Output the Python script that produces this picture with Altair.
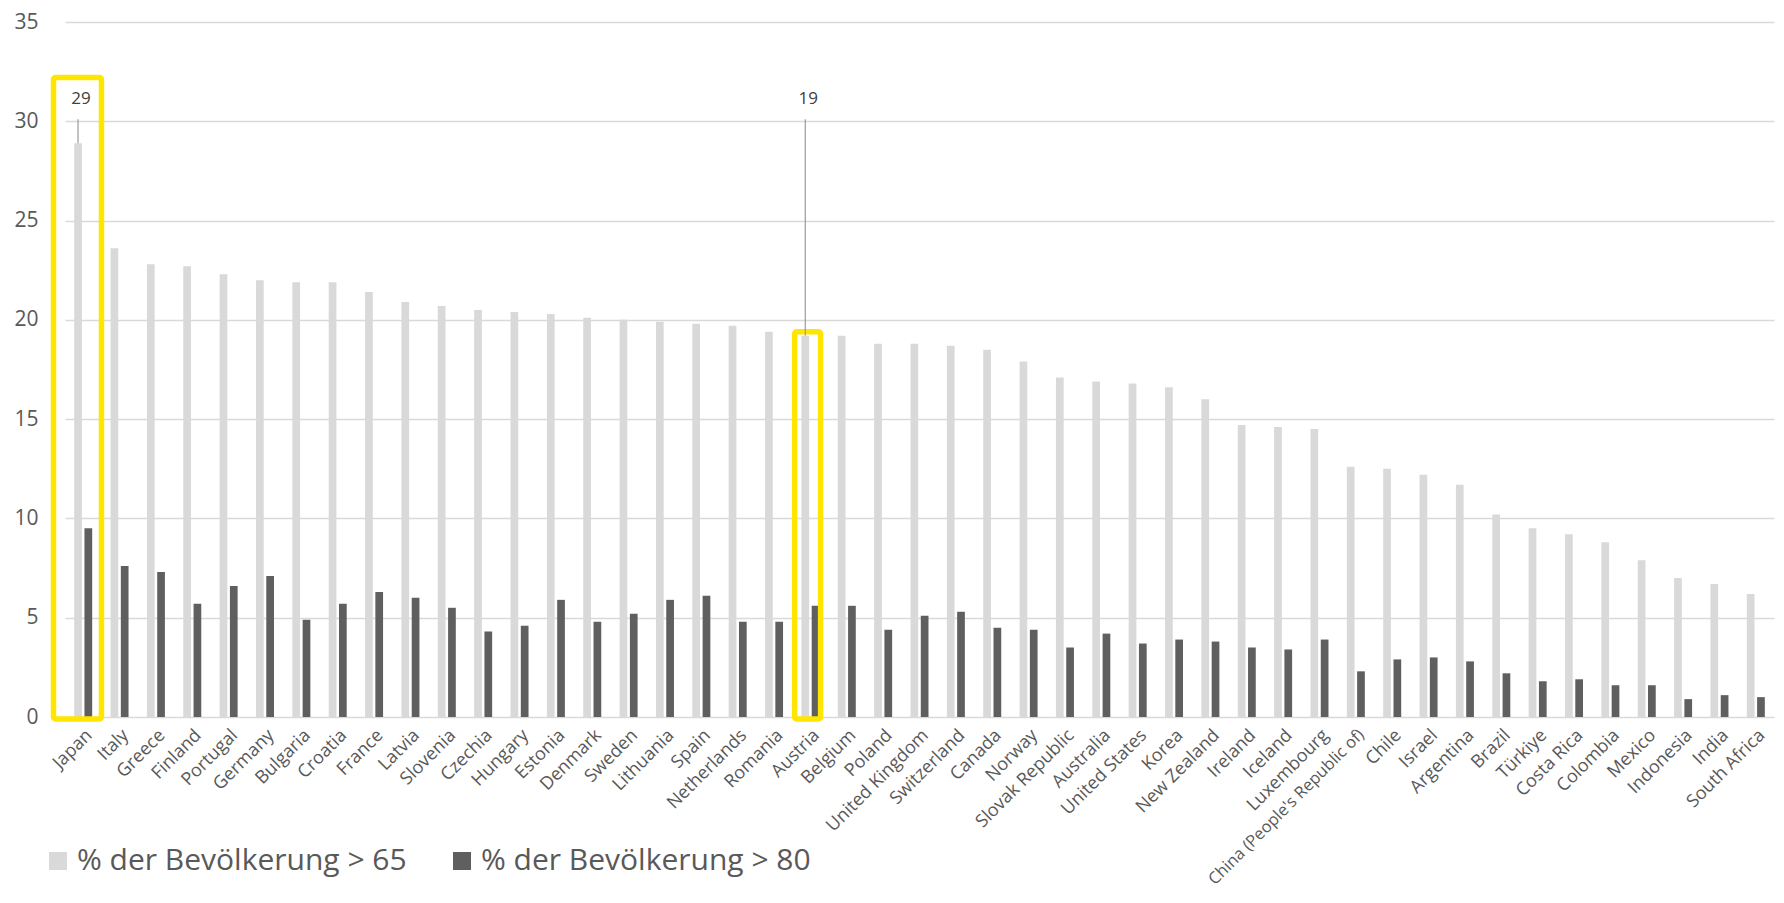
import altair as alt
import pandas as pd

countries = [
    "Japan", "Italy", "Greece", "Finland", "Portugal", "Germany", "Bulgaria", "Croatia",
    "France", "Latvia", "Slovenia", "Czechia", "Hungary", "Estonia", "Denmark", "Sweden",
    "Lithuania", "Spain", "Netherlands", "Romania", "Austria", "Belgium", "Poland",
    "United Kingdom", "Switzerland", "Canada", "Norway", "Slovak Republic", "Australia",
    "United States", "Korea", "New Zealand", "Ireland", "Iceland", "Luxembourg",
    "China (People's Republic of)", "Chile", "Israel", "Argentina", "Brazil", "Türkiye",
    "Costa Rica", "Colombia", "Mexico", "Indonesia", "India", "South Africa",
]
pct_over_65 = [
    28.9, 23.6, 22.8, 22.7, 22.3, 22.0, 21.9, 21.9, 21.4, 20.9, 20.7, 20.5, 20.4, 20.3,
    20.1, 20.0, 19.9, 19.8, 19.7, 19.4, 19.2, 19.2, 18.8, 18.8, 18.7, 18.5, 17.9, 17.1,
    16.9, 16.8, 16.6, 16.0, 14.7, 14.6, 14.5, 12.6, 12.5, 12.2, 11.7, 10.2, 9.5, 9.2,
    8.8, 7.9, 7.0, 6.7, 6.2,
]
pct_over_80 = [
    9.5, 7.6, 7.3, 5.7, 6.6, 7.1, 4.9, 5.7, 6.3, 6.0, 5.5, 4.3, 4.6, 5.9, 4.8, 5.2,
    5.9, 6.1, 4.8, 4.8, 5.6, 5.6, 4.4, 5.1, 5.3, 4.5, 4.4, 3.5, 4.2, 3.7, 3.9, 3.8,
    3.5, 3.4, 3.9, 2.3, 2.9, 3.0, 2.8, 2.2, 1.8, 1.9, 1.6, 1.6, 0.9, 1.1, 1.0,
]
series_names = ["% der Bevölkerung > 65", "% der Bevölkerung > 80"]
series_colors = ["#d9d9d9", "#5f5f5f"]
y_ticks = [0, 5, 10, 15, 20, 25, 30, 35]

# highlighted countries (yellow boxes) and the height each box reaches
highlight_countries = ["Japan", "Austria"]
highlight_top = [32.2, 19.4]

rows = []
for c, a, b in zip(countries, pct_over_65, pct_over_80):
    rows.append({"country": c, "series": series_names[0], "value": a})
    rows.append({"country": c, "series": series_names[1], "value": b})
df = pd.DataFrame(rows)

label_level = 31.1
annot = pd.DataFrame({
    "country": highlight_countries,
    "series": series_names[0],
    "value": [pct_over_65[countries.index(c)] for c in highlight_countries],
})
annot["label"] = annot["value"].round().astype(int).astype(str)
annot["level"] = label_level
annot["line_top"] = label_level - 1.0

boxes = pd.DataFrame({"country": highlight_countries, "top": highlight_top, "bottom": -0.1})

FONT = "Open Sans"
x_sort = countries
longest = max(countries, key=len)

x_enc = alt.X(
    "country:N", sort=x_sort,
    scale=alt.Scale(paddingInner=0.505, paddingOuter=0.2525),
    axis=alt.Axis(
        title=None, labelAngle=-45, labelAlign="right", labelBaseline="top",
        labelFont=FONT,
        labelFontSize=alt.ExprRef(f"datum.value == \"{longest}\" ? 16.5 : 18"),
        labelColor="#595959", labelLimit=400,
        labelPadding=9, ticks=False, domain=False, grid=False,
    ),
)
xoff = alt.XOffset("series:N", sort=series_names, scale=alt.Scale(paddingInner=0.25, paddingOuter=0))

bars = alt.Chart(df).mark_bar().encode(
    x=x_enc,
    xOffset=xoff,
    y=alt.Y(
        "value:Q",
        scale=alt.Scale(domain=[0, 35], nice=False),
        axis=alt.Axis(
            title=None, values=y_ticks, labelFont=FONT, labelFontSize=21,
            labelColor="#595959", labelPadding=27, ticks=False, domain=False,
            grid=True, gridColor="#d9d9d9", gridWidth=1.6,
        ),
    ),
    color=alt.Color(
        "series:N",
        scale=alt.Scale(domain=series_names, range=series_colors),
        legend=alt.Legend(
            title=None, orient="none", legendX=-22, legendY=824, direction="horizontal",
            symbolType="square", symbolSize=324, symbolStrokeWidth=0,
            labelFont=FONT, labelFontSize=30, labelColor="#595959",
            labelOffset=4, columnPadding=40, labelLimit=600, padding=0,
        ),
    ),
)

box_layers = []
box_styles = {"Japan": (48, -5.7), "Austria": (26, -2.8)}
for c in highlight_countries:
    w, off = box_styles[c]
    box_layers.append(
        alt.Chart(boxes[boxes["country"] == c]).mark_bar(
            fill="transparent", stroke="#FFE600", strokeWidth=5.5,
            cornerRadius=2, width=w, xOffset=off,
        ).encode(
            x=alt.X("country:N", sort=x_sort),
            y=alt.Y("top:Q"),
            y2=alt.Y2("bottom:Q"),
        )
    )

leaders = alt.Chart(annot).mark_rule(color="#9a9a9a", strokeWidth=1.2).encode(
    x=alt.X("country:N", sort=x_sort),
    xOffset=alt.XOffset("series:N", sort=series_names),
    y=alt.Y("line_top:Q"),
    y2=alt.Y2("value:Q"),
)

labels = alt.Chart(annot).mark_text(
    font=FONT, fontSize=17, color="#404040", dx=3, baseline="middle"
).encode(
    x=alt.X("country:N", sort=x_sort),
    xOffset=alt.XOffset("series:N", sort=series_names),
    y=alt.Y("level:Q"),
    text="label:N",
)

chart = alt.layer(bars, *box_layers, leaders, labels).properties(
    width=1709, height=695,
    background="white",
    autosize=alt.AutoSizeParams(type="none"),
    padding={"left": 57, "top": 14, "right": 2, "bottom": 174},
).configure_view(strokeWidth=0, stroke="transparent").configure_axis(domain=False)

chart.save("out.html", embed_options={"renderer": "svg", "actions": False})
